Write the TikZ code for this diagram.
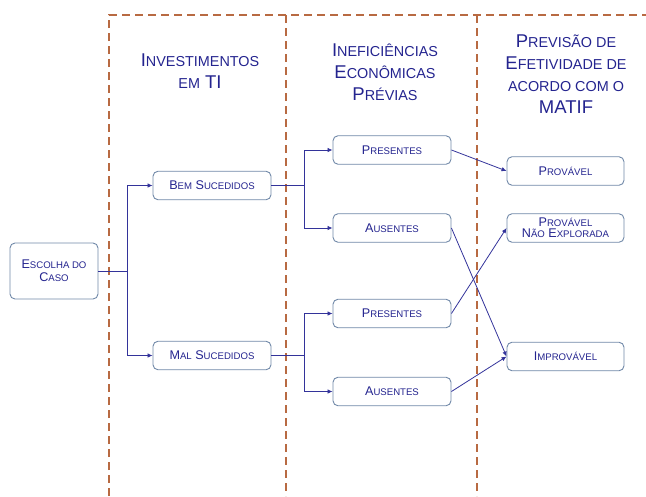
\documentclass[tikz,border=0pt]{standalone}
\usepackage{fontspec}
\setmainfont{Liberation Sans}
\usetikzlibrary{arrows.meta}
\definecolor{navy}{HTML}{24248F}
\definecolor{edgeblue}{HTML}{33339A}
\definecolor{boxborder}{HTML}{7088A8}
\definecolor{dashbrown}{HTML}{B86A42}
\newcommand\scn[1]{{\fontsize{9.6}{11}\selectfont #1}}
\newcommand\sch[1]{{\fontsize{14.4}{16}\selectfont #1}}
\begin{document}
\begin{tikzpicture}[x=1pt,y=-1pt,
  box/.style={draw=boxborder,line width=0.9pt,rounded corners=5pt,fill=white,
    text=navy,align=center,inner sep=0pt,font=\fontsize{12.6}{12}\selectfont},
  smallbox/.style={box,minimum width=118pt,minimum height=28.5pt},
  hdr/.style={text=navy,align=center,font=\fontsize{18.5}{22}\selectfont},
  sep/.style={draw=dashbrown,line width=1.8pt,dash pattern=on 8pt off 5pt},
  conn/.style={draw=edgeblue,line width=0.8pt},
  arr/.style={conn,-{Latex[length=5pt,width=4.5pt]}}]
\useasboundingbox (0,0) rectangle (646,496);
% dashed separators
\draw[sep] (109,496) -- (109,15) -- (646,15);
\draw[sep] (286,15) -- (286,496);
\draw[sep] (477,15) -- (477,496);
% headers
\node[hdr] (h1) at (200,71) {I\sch{NVESTIMENTOS}\\\sch{EM} TI};
\node[hdr] (h2) at (385,72) {I\sch{NEFICIÊNCIAS}\\E\sch{CONÔMICAS}\\P\sch{RÉVIAS}};
\node[hdr] (h3) at (566,74) {P\sch{REVISÃO DE}\\E\sch{FETIVIDADE DE}\\\sch{ACORDO COM O}\\MATIF};
% nodes
\node[box,minimum width=88pt,minimum height=56pt] (esc) at (54,271) {E\scn{SCOLHA DO}\\[1pt]C\scn{ASO}};
\node[smallbox] (bem) at (212,185.5) {B\scn{EM} S\scn{UCEDIDOS}};
\node[smallbox] (mal) at (212,355.5) {M\scn{AL} S\scn{UCEDIDOS}};
\node[smallbox] (p1) at (392,150) {P\scn{RESENTES}};
\node[smallbox] (a1) at (392,228) {A\scn{USENTES}};
\node[smallbox] (p2) at (392,313.5) {P\scn{RESENTES}};
\node[smallbox] (a2) at (392,391.5) {A\scn{USENTES}};
\node[smallbox,minimum width=117pt] (prov) at (565.5,171) {P\scn{ROVÁVEL}};
\node[smallbox,minimum width=117pt] (pne) at (565.5,228) {P\scn{ROVÁVEL}\\[-1pt]N\scn{ÃO} E\scn{XPLORADA}};
\node[smallbox,minimum width=117pt] (imp) at (565.5,356.5) {I\scn{MPROVÁVEL}};
% tree connectors
\coordinate (t1) at (127,271);
\draw[conn] (esc.east) -- (t1);
\draw[arr] (t1) |- (bem.west);
\draw[arr] (t1) |- (mal.west);
\coordinate (t2) at (304,185.5);
\draw[conn] (bem.east) -- (t2);
\draw[arr] (t2) |- (p1.west);
\draw[arr] (t2) |- (a1.west);
\coordinate (t3) at (304,355.5);
\draw[conn] (mal.east) -- (t3);
\draw[arr] (t3) |- (p2.west);
\draw[arr] (t3) |- (a2.west);
% diagonal connectors
\draw[arr] (p1.east) -- (prov.west);
\draw[arr] (a1.east) -- (imp.west);
\draw[arr] (p2.east) -- (pne.west);
\draw[arr] (a2.east) -- (imp.west);
\end{tikzpicture}
\end{document}
